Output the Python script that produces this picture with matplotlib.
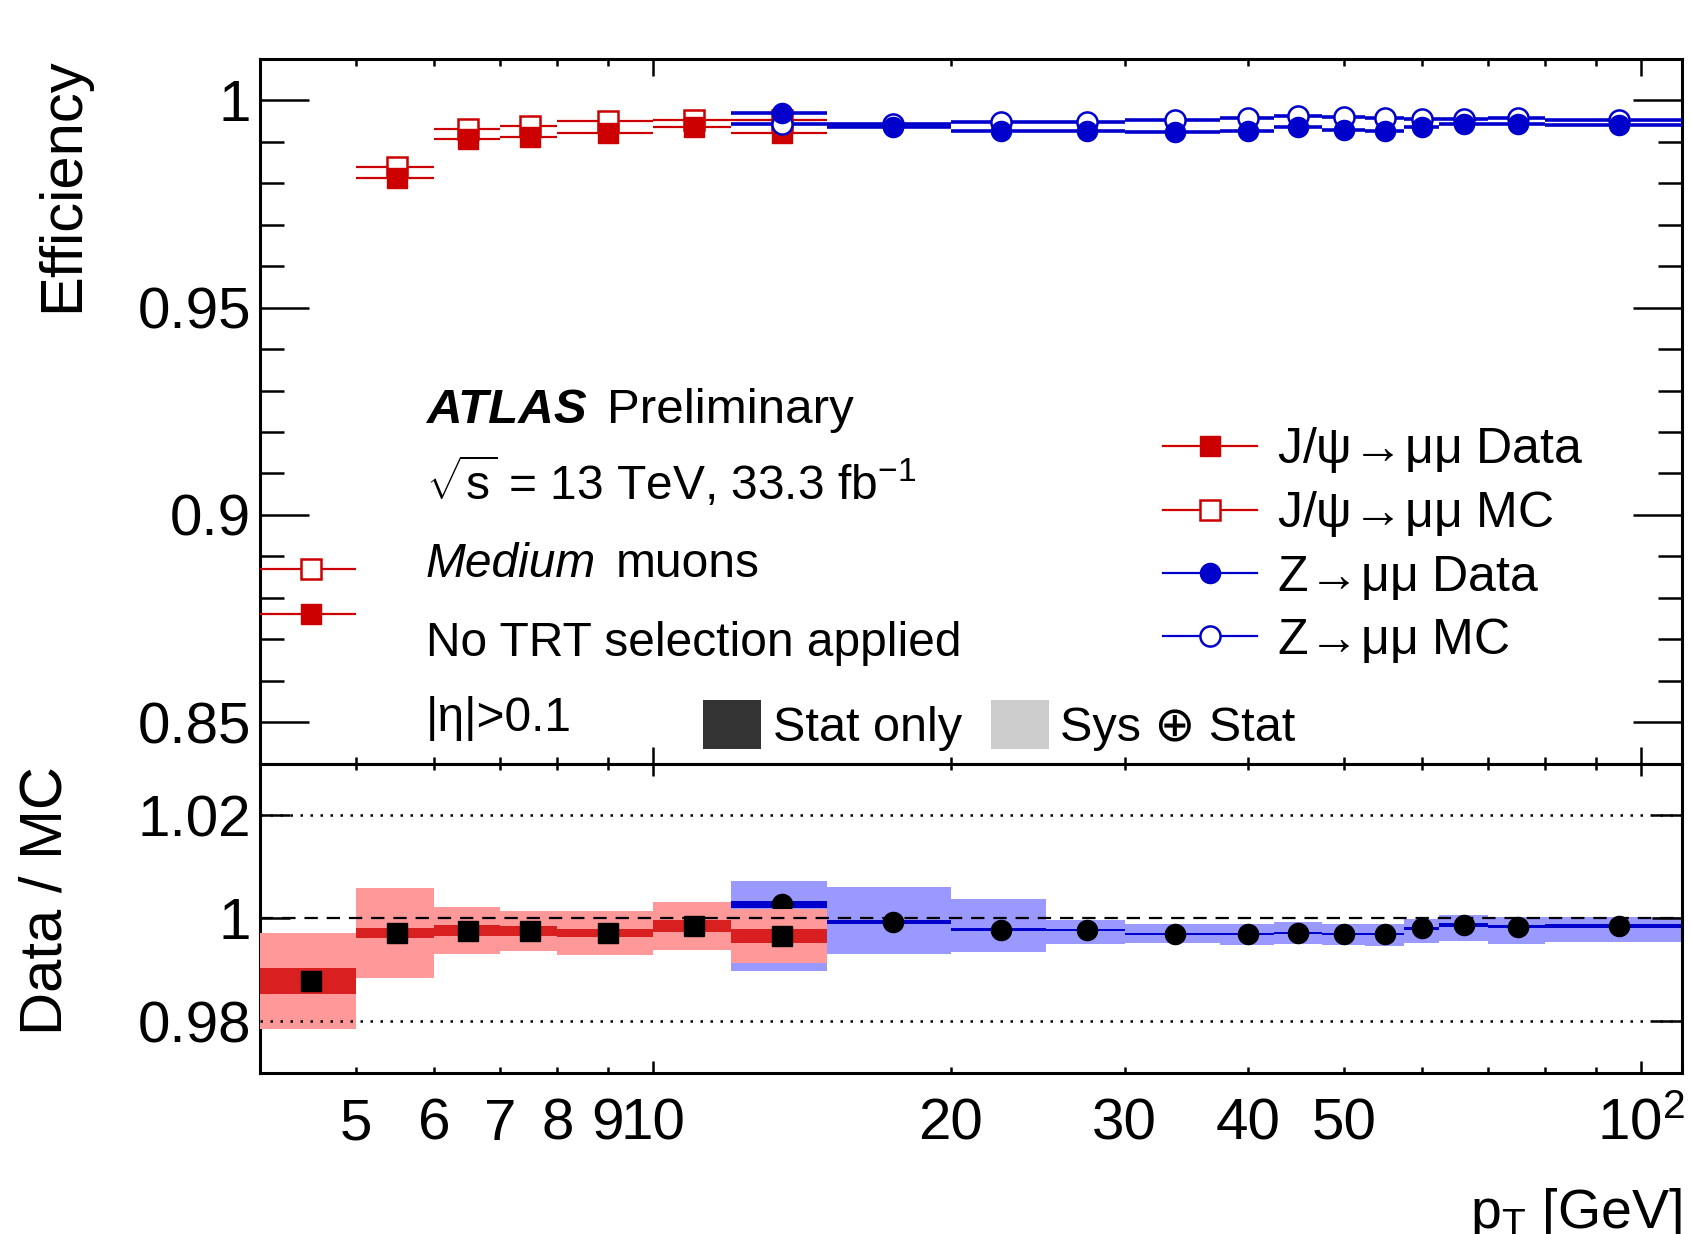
import matplotlib
matplotlib.use('Agg')
import matplotlib.pyplot as plt
from matplotlib.lines import Line2D
from matplotlib.patches import Patch
from matplotlib.ticker import FixedLocator, FuncFormatter, MultipleLocator, NullLocator
import numpy as np

plt.rcParams['font.family'] = ['Liberation Sans', 'DejaVu Sans']
plt.rcParams['mathtext.fontset'] = 'custom'
plt.rcParams['mathtext.rm'] = 'Liberation Sans'
plt.rcParams['mathtext.it'] = 'Liberation Sans:italic'
plt.rcParams['mathtext.bf'] = 'Liberation Sans:bold'
plt.rcParams['mathtext.fallback'] = 'cm'

# ---------------- data ----------------
# J/psi -> mumu bins
jpsi_lo = [4, 5, 6, 7, 8, 10, 12]
jpsi_hi = [5, 6, 7, 8, 10, 12, 15]
jpsi_mc = [0.8870, 0.9840, 0.9930, 0.9938, 0.9950, 0.9952, 0.9954]
jpsi_data = [0.8762, 0.9813, 0.9906, 0.9913, 0.9922, 0.9937, 0.9922]
jpsi_ratio = [0.9879, 0.9972, 0.9976, 0.9975, 0.9971, 0.9985, 0.9966]
jpsi_stat = [0.0025, 0.0010, 0.0011, 0.0010, 0.0008, 0.0011, 0.0013]
jpsi_sys = [0.0093, 0.0087, 0.0046, 0.0039, 0.0043, 0.0047, 0.0052]

# Z -> mumu bins
z_lo = [12, 15, 20, 25, 30, 37.5, 42.5, 47.5, 52.5, 57.5, 62.5, 70, 80]
z_hi = [15, 20, 25, 30, 37.5, 42.5, 47.5, 52.5, 57.5, 62.5, 70, 80, 110]
z_mc = [0.9944, 0.9943, 0.9948, 0.9948, 0.9952, 0.9958, 0.9963, 0.9960, 0.9957, 0.9956, 0.9955, 0.9957, 0.9954]
z_data = [0.9970, 0.9936, 0.9927, 0.9927, 0.9923, 0.9926, 0.9935, 0.9928, 0.9926, 0.9937, 0.9942, 0.9942, 0.9940]
z_ratio = [1.0027, 0.9993, 0.9978, 0.9977, 0.9970, 0.9969, 0.9972, 0.9970, 0.9970, 0.9981, 0.9987, 0.9984, 0.9985]
z_stat = [0.0007, 0.0004, 0.0003, 0.0002, 0.0002, 0.0002, 0.0002, 0.0002, 0.0002, 0.0003, 0.0003, 0.0003, 0.0003]
z_sys_lo = [0.9898, 0.9931, 0.9934, 0.9950, 0.9952, 0.9949, 0.9950, 0.9949, 0.9947, 0.9952, 0.9956, 0.9950, 0.9954]
z_sys_hi = [1.0072, 1.0061, 1.0037, 0.9997, 0.9988, 0.9989, 0.9993, 0.9988, 0.9988, 0.9998, 1.0006, 1.0003, 1.0003]

x_major = [10, 100]
x_minor = [5, 6, 7, 8, 9, 20, 30, 40, 50, 60, 70, 80, 90]
x_minor_labelled = [5, 6, 7, 8, 9, 20, 30, 40, 50]
y_top_major = [0.85, 0.9, 0.95, 1.0]
y_bot_major = [0.98, 1.0, 1.02]

legend_labels = [r'J/$\mathrm{\psi}\!\rightarrow\!\mathrm{\mu\mu}$ Data',
                 r'J/$\mathrm{\psi}\!\rightarrow\!\mathrm{\mu\mu}$ MC',
                 r'Z$\!\rightarrow\!\mathrm{\mu\mu}$ Data',
                 r'Z$\!\rightarrow\!\mathrm{\mu\mu}$ MC']

RED = '#cc0000'
BLUE = '#0000cc'
RED_STAT = '#d82020'
RED_SYS = '#ff9999'
BLUE_STAT = '#0000cc'
BLUE_SYS = '#9999ff'

# ---------------- figure ----------------
W, H = 1691, 1234
fig = plt.figure(figsize=(W / 100, H / 100), dpi=100)
left, right = 260 / W, 1682 / W
ax1 = fig.add_axes([left, 1 - 763.6 / H, right - left, (763.6 - 59) / H])
ax2 = fig.add_axes([left, 1 - 1073 / H, right - left, (1073 - 763.6) / H], sharex=ax1)

jl, jh = np.array(jpsi_lo, float), np.array(jpsi_hi, float)
zl, zh = np.array(z_lo, float), np.array(z_hi, float)
jc = (jl + jh) / 2
zc = (zl + zh) / 2

ms = 14.5
# top panel
ax1.errorbar(jc, jpsi_mc, xerr=[jc - jl, jh - jc], fmt='s', ms=ms, mfc='white', mec=RED, mew=1.8,
             ecolor=RED, elinewidth=1.6, capsize=0, zorder=3)
ax1.errorbar(jc, jpsi_data, xerr=[jc - jl, jh - jc], fmt='s', ms=ms, mfc=RED, mec=RED, mew=1.0,
             ecolor=RED, elinewidth=1.6, capsize=0, zorder=4)
ax1.errorbar(zc, z_mc, xerr=[zc - zl, zh - zc], fmt='o', ms=ms, mfc='white', mec=BLUE, mew=1.8,
             ecolor=BLUE, elinewidth=2.6, capsize=0, zorder=5)
ax1.errorbar(zc, z_data, xerr=[zc - zl, zh - zc], fmt='o', ms=ms, mfc=BLUE, mec=BLUE, mew=1.0,
             ecolor=BLUE, elinewidth=2.6, capsize=0, zorder=6)

# bottom panel
zr = np.array(z_ratio)
zs = np.array(z_stat)
ax2.bar(zl, np.array(z_sys_hi) - np.array(z_sys_lo), width=zh - zl, bottom=z_sys_lo, align='edge',
        color=BLUE_SYS, edgecolor='none', zorder=1)
ax2.bar(zl, 2 * zs, width=zh - zl, bottom=zr - zs, align='edge', color=BLUE_STAT, edgecolor='none', zorder=1.5)
ax2.plot(zc, zr, 'o', ms=ms, color='black', zorder=2)

jr = np.array(jpsi_ratio)
js = np.array(jpsi_stat)
jy = np.array(jpsi_sys)
ax2.bar(jl, 2 * jy, width=jh - jl, bottom=jr - jy, align='edge', color=RED_SYS, edgecolor='none', zorder=3)
ax2.bar(jl, 2 * js, width=jh - jl, bottom=jr - js, align='edge', color=RED_STAT, edgecolor='none', zorder=4)
ax2.axhline(1.02, color='black', ls=(0, (1, 3)), lw=1.8, zorder=4.5)
ax2.axhline(0.98, color='black', ls=(0, (1, 3)), lw=1.8, zorder=4.5)
ax2.axhline(1.0, color='black', ls=(0, (6, 4)), lw=1.6, zorder=4.5)
ax2.plot(jc, jr, 's', ms=ms, color='black', zorder=5)

# axes ranges / ticks
ax1.set_xscale('log')
ax1.set_xlim(4, 110)
ax1.set_ylim(0.84, 1.01)
ax2.set_ylim(0.97, 1.03)

for ax in (ax1, ax2):
    ax.xaxis.set_major_locator(FixedLocator(x_major))
    ax.xaxis.set_minor_locator(FixedLocator(x_minor))
    for s in ax.spines.values():
        s.set_linewidth(2.2)
    ax.tick_params(which='both', direction='in', top=True, right=True, width=1.8, labelsize=42)

ax1.yaxis.set_major_locator(FixedLocator(y_top_major))
ax1.yaxis.set_minor_locator(MultipleLocator(0.01))
ax1.yaxis.set_major_formatter(FuncFormatter(lambda v, p: '%g' % round(v, 4)))
ax1.tick_params(axis='y', which='major', length=35, pad=6.5)
ax1.tick_params(axis='y', which='minor', length=17.6)
ax1.tick_params(axis='x', which='major', length=12)
ax1.tick_params(axis='x', which='minor', length=5.3)
ax1.tick_params(axis='x', which='both', labelbottom=False)

ax2.yaxis.set_major_locator(FixedLocator(y_bot_major))
ax2.yaxis.set_minor_locator(NullLocator())
ax2.yaxis.set_major_formatter(FuncFormatter(lambda v, p: '%g' % round(v, 4)))
ax2.tick_params(axis='y', which='major', length=21.6, pad=6.5)
ax2.tick_params(axis='x', which='major', length=8.6, pad=18)
ax2.tick_params(axis='x', which='minor', length=4.3, pad=18, labelsize=42)
ax2.xaxis.set_major_formatter(FuncFormatter(lambda v, p: '10' if abs(v - 10) < 1e-6 else r'$10^{2}$'))
ax2.xaxis.set_minor_formatter(FuncFormatter(
    lambda v, p: ('%d' % round(v)) if any(abs(v - t) < 1e-6 for t in x_minor_labelled) else ''))

# axis titles
fig.text(78 / W, 1 - 57 / H, 'Efficiency', rotation=90, rotation_mode='anchor', ha='right',
         va='baseline', fontsize=43)
fig.text(62 / W, 1 - 766 / H, 'Data / MC', rotation=90, rotation_mode='anchor', ha='right',
         va='baseline', fontsize=43)
fig.text(right, 1 - 1228 / H, r'p$_{\mathrm{T}}$ [GeV]', ha='right', va='baseline', fontsize=40)

# annotations
tx = (426 - 260) / (1682 - 260)
def yb(ypx):
    return (763.6 - ypx) / (763.6 - 59)
fs = 34.5
ax1.text(tx, yb(423), 'ATLAS', fontsize=35.5, fontweight='bold', fontstyle='italic', transform=ax1.transAxes)
ax1.text((607 - 260) / 1422, yb(423), 'Preliminary', fontsize=35.5, transform=ax1.transAxes)
ax1.text(tx, yb(500), r'$\sqrt{\mathrm{s}}$ = 13 TeV, 33.3 fb$^{-1}$', fontsize=fs, transform=ax1.transAxes)
ax1.text(tx, yb(577), 'Medium', fontsize=fs, fontstyle='italic', transform=ax1.transAxes)
ax1.text((616 - 260) / 1422, yb(577), 'muons', fontsize=fs, transform=ax1.transAxes)
ax1.text(tx, yb(656), 'No TRT selection applied', fontsize=fs, transform=ax1.transAxes)
ax1.text(tx, yb(731), '|η|>0.1', fontsize=fs, transform=ax1.transAxes)

# legends
handles = [
    Line2D([], [], color=RED, lw=1.6, marker='s', ms=ms, mfc=RED, mec=RED),
    Line2D([], [], color=RED, lw=1.6, marker='s', ms=ms, mfc='white', mec=RED, mew=1.8),
    Line2D([], [], color=BLUE, lw=1.6, marker='o', ms=ms, mfc=BLUE, mec=BLUE),
    Line2D([], [], color=BLUE, lw=1.6, marker='o', ms=ms, mfc='white', mec=BLUE, mew=1.8),
]
leg1 = ax1.legend(handles, legend_labels, loc='upper left', bbox_to_anchor=((1163 - 260) / 1422, yb(425)),
                  frameon=False, fontsize=36, handlelength=1.88, handletextpad=0.4, labelspacing=0.285,
                  borderpad=0, borderaxespad=0, numpoints=1)
ax1.add_artist(leg1)
ph = [Patch(facecolor='#333333', edgecolor='none'), Patch(facecolor='#cccccc', edgecolor='none')]
ax1.legend(ph, ['Stat only', 'Sys ⊕ Stat'], loc='center left', bbox_to_anchor=((703 - 260) / 1422, yb(725.5)),
           ncol=2, frameon=False, fontsize=35, handlelength=1.2, handleheight=1.17, handletextpad=0.23,
           columnspacing=0.6, borderpad=0, borderaxespad=0)

fig.savefig('out.png', dpi=100)
